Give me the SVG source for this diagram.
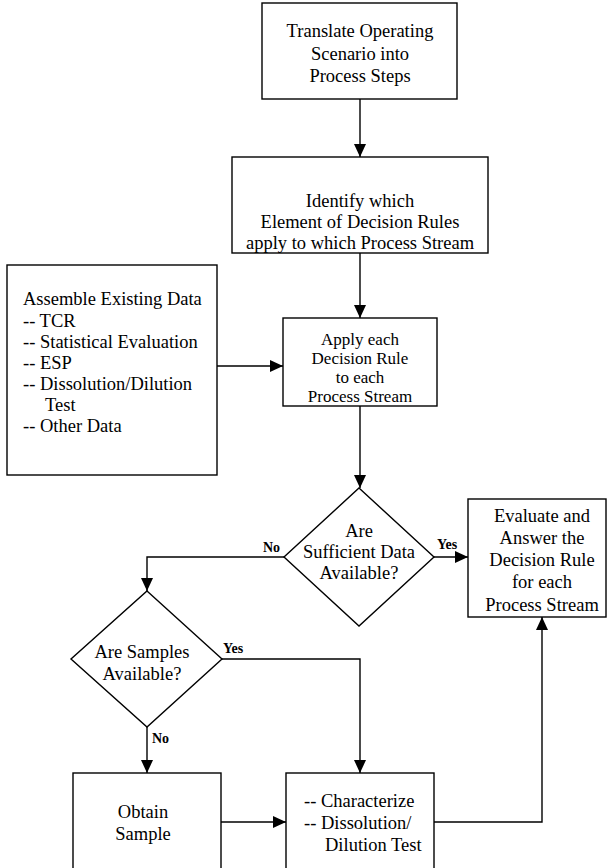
<svg xmlns="http://www.w3.org/2000/svg" width="610" height="868" viewBox="0 0 610 868">
<style>
.box{fill:#fff;stroke:#000;stroke-width:1.4}
.t{font-family:"Liberation Serif","Times New Roman",serif;font-size:18.5px;fill:#000}
.s{font-size:17px}
.c{text-anchor:middle}
.lbl{font-family:"Liberation Serif","Times New Roman",serif;font-size:14px;font-weight:bold;fill:#000}
.ln{fill:none;stroke:#000;stroke-width:1.4}
</style>
<defs>
<marker id="ah" markerUnits="userSpaceOnUse" markerWidth="14" markerHeight="12" refX="13" refY="6" orient="auto">
<path d="M0,0 L13,6 L0,12 Z" fill="#000"/>
</marker>
</defs>
<rect width="610" height="868" fill="#fff"/>
<g id="connectors">
<path class="ln" d="M360,99 V157" marker-end="url(#ah)"/>
<path class="ln" d="M360,253 V318" marker-end="url(#ah)"/>
<path class="ln" d="M217,366 H283" marker-end="url(#ah)"/>
<path class="ln" d="M360,406 V488" marker-end="url(#ah)"/>
<path class="ln" d="M434,557 H468" marker-end="url(#ah)"/>
<path class="ln" d="M285,557 H147 V591" marker-end="url(#ah)"/>
<path class="ln" d="M222,659 H360 V773" marker-end="url(#ah)"/>
<path class="ln" d="M147,727 V773" marker-end="url(#ah)"/>
<path class="ln" d="M221,822 H286" marker-end="url(#ah)"/>
<path class="ln" d="M434,822 H542 V617" marker-end="url(#ah)"/>
<text class="lbl" x="263" y="552">No</text>
<text class="lbl" x="437" y="549">Yes</text>
<text class="lbl" x="223" y="653">Yes</text>
<text class="lbl" x="152" y="743">No</text>
</g>
<g id="translate">
<rect class="box" x="262" y="3" width="195" height="96"/>
<text class="t c" x="360" y="37">Translate Operating</text>
<text class="t c" x="360" y="60">Scenario into</text>
<text class="t c" x="360" y="82">Process Steps</text>
</g>
<g id="identify">
<rect class="box" x="232" y="157" width="256" height="96"/>
<text class="t c" x="360" y="207">Identify which</text>
<text class="t c" x="360" y="228">Element of Decision Rules</text>
<text class="t c" x="360" y="249">apply to which Process Stream</text>
</g>
<g id="assemble">
<rect class="box" x="7" y="265" width="210" height="210"/>
<text class="t" x="23" y="305">Assemble Existing Data</text>
<text class="t" x="23" y="327">-- TCR</text>
<text class="t" x="23" y="348">-- Statistical Evaluation</text>
<text class="t" x="23" y="369">-- ESP</text>
<text class="t" x="23" y="390">-- Dissolution/Dilution</text>
<text class="t" x="45" y="411">Test</text>
<text class="t" x="23" y="432">-- Other Data</text>
</g>
<g id="apply">
<rect class="box" x="283" y="318" width="154" height="88"/>
<text class="t s c" x="360" y="345">Apply each</text>
<text class="t s c" x="360" y="364">Decision Rule</text>
<text class="t s c" x="360" y="383">to each</text>
<text class="t s c" x="360" y="402">Process Stream</text>
</g>
<g id="sufficient">
<polygon class="box" points="359,488 434,557 359,626 284,557"/>
<text class="t c" x="359" y="537">Are</text>
<text class="t c" x="359" y="558">Sufficient Data</text>
<text class="t c" x="359" y="579">Available?</text>
</g>
<g id="evaluate">
<rect class="box" x="468" y="499" width="138" height="118"/>
<text class="t c" x="542" y="522">Evaluate and</text>
<text class="t c" x="542" y="544">Answer the</text>
<text class="t c" x="542" y="566">Decision Rule</text>
<text class="t c" x="542" y="588">for each</text>
<text class="t c" x="542" y="611">Process Stream</text>
</g>
<g id="samples">
<polygon class="box" points="147,591 222,659 147,727 71,659"/>
<text class="t c" x="142" y="658">Are Samples</text>
<text class="t c" x="142" y="680">Available?</text>
</g>
<g id="obtain">
<rect class="box" x="73" y="773" width="148" height="110"/>
<text class="t c" x="143" y="818">Obtain</text>
<text class="t c" x="143" y="840">Sample</text>
</g>
<g id="characterize">
<rect class="box" x="286" y="773" width="148" height="110"/>
<text class="t" x="304" y="807">-- Characterize</text>
<text class="t" x="304" y="829">-- Dissolution/</text>
<text class="t" x="325" y="851">Dilution Test</text>
</g>
</svg>
